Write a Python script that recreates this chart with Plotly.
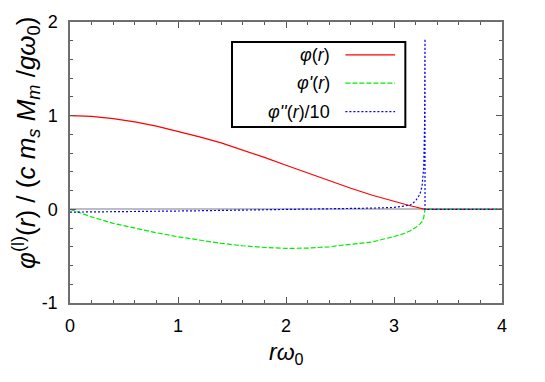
import plotly.graph_objects as go

# radius r*omega_0
r = [0.0, 0.2, 0.4, 0.6, 0.8, 1.0, 1.2, 1.4, 1.6, 1.8, 2.0, 2.2, 2.4, 2.6, 2.8,
     3.0, 3.1, 3.15, 3.2, 3.24, 3.26, 3.275, 3.283, 3.287, 3.287, 4.0]

# phi(r)
phi = [1.0, 0.992, 0.969, 0.934, 0.889, 0.835, 0.773, 0.71, 0.634, 0.554, 0.471,
       0.388, 0.305, 0.225, 0.15, 0.082, 0.052, 0.038, 0.025, 0.013, 0.007, 0.003,
       0.001, 0.0, 0.0, 0.0]

# phi'(r)
dphi = [0.0, -0.08, -0.15, -0.203, -0.25, -0.293, -0.331, -0.363, -0.389, -0.407,
        -0.417, -0.414, -0.40, -0.377, -0.348, -0.29, -0.255, -0.228, -0.195, -0.155,
        -0.132, -0.09, -0.04, -0.02, 0.0, 0.0]

# phi''(r)/10
ddphi = [-0.03, -0.029, -0.027, -0.024, -0.021, -0.018, -0.015, -0.012, -0.009,
         -0.005, -0.002, 0.001, 0.004, 0.008, 0.013, 0.02, 0.033, 0.045, 0.09, 0.16,
         0.25, 0.45, 0.9, 1.82, 0.0, 0.0]

x_ticks = [0, 1, 2, 3, 4]
y_ticks = [-1, 0, 1, 2]
y_tick_labels = ["-1", "0", "1", "2"]

legend_labels = ["<i>φ</i>(<i>r</i>)", "<i>φ'</i>(<i>r</i>)", "<i>φ''</i>(<i>r</i>)/10"]
colors = ["#ff0000", "#00ee00", "#0000ff"]
dashes = ["solid", "5px,2px", "2px,2px"]

FONT = "Liberation Sans, Arial, sans-serif"

fig = go.Figure()
for ys, col, dash in zip([phi, dphi, ddphi], colors, dashes):
    fig.add_trace(go.Scatter(x=r, y=ys, mode="lines",
                             line=dict(color=col, width=1.2, dash=dash),
                             showlegend=False, hoverinfo="skip"))

axis_style = dict(
    showline=True, linecolor="#6e6e6e", linewidth=1.5, mirror="ticks",
    ticks="inside", ticklen=6, tickcolor="#555", tickwidth=1, automargin=False,
    showgrid=False, tickfont=dict(family=FONT, size=18, color="black"),
)
minor_ticks = dict(dtick=0.2, ticks="inside", ticklen=3, tickcolor="#555")

fig.update_xaxes(range=[0, 4], tickvals=x_ticks, zeroline=False,
                 ticklabelstandoff=6, minor=minor_ticks, **axis_style)
fig.update_yaxes(range=[-1, 2], tickvals=y_ticks, ticktext=y_tick_labels,
                 zeroline=True, zerolinecolor="#bdbdbd", zerolinewidth=1.5,
                 ticklabelstandoff=7, minor=minor_ticks, **axis_style)

# hand-made legend box (text left of sample, like gnuplot)
fig.add_shape(type="rect", xref="x", yref="y", x0=1.5, x1=3.105, y0=0.879, y1=1.787,
              line=dict(color="black", width=2), fillcolor="white", layer="above")
rows = [1.65, 1.347, 1.044]
for lab, col, dash, yy in zip(legend_labels, colors, dashes, rows):
    fig.add_annotation(x=2.43, y=yy, xref="x", yref="y", text=lab, showarrow=False,
                       xanchor="right", yanchor="middle",
                       font=dict(family=FONT, size=18, color="black"))
    fig.add_shape(type="line", xref="x", yref="y", x0=2.55, x1=3.01, y0=yy, y1=yy,
                  line=dict(color=col, width=1.2, dash=dash), layer="above")

# axis titles
fig.add_annotation(xref="paper", yref="paper", x=0.5, y=-0.178, showarrow=False,
                   text="<i>rω</i><sub>0</sub>", xanchor="center", yanchor="middle",
                   font=dict(family=FONT, size=23, color="black"))
fig.add_annotation(xref="paper", yref="paper", x=-0.102, y=0.569, showarrow=False,
                   textangle=-90, xanchor="center", yanchor="middle",
                   text="<i>φ</i><sup>(l)</sup>(<i>r</i>) / (<i>c m<sub>s</sub> M<sub>m</sub></i> /<i>gω</i><sub>0</sub>)",
                   font=dict(family=FONT, size=26, color="black"))

# page body has an 8px margin, so the plot box is shifted back by that much
fig.update_layout(
    width=545, height=382,
    margin=dict(l=62, r=51, t=14, b=87),
    plot_bgcolor="white", paper_bgcolor="white",
    font=dict(family=FONT, color="black"),
)

fig.write_html("out.html")
